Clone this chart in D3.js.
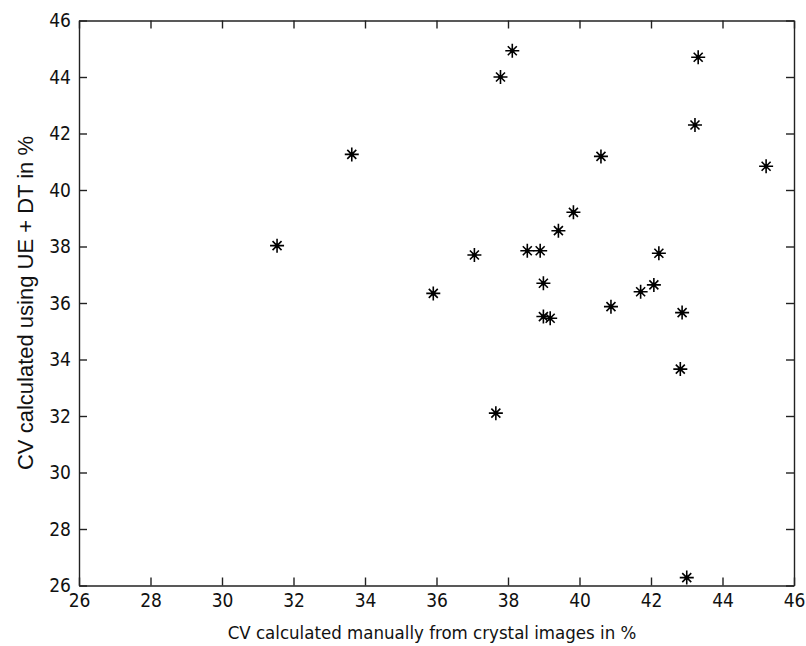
<!DOCTYPE html>
<html>
<head>
<meta charset="utf-8">
<script src="https://cdn.jsdelivr.net/npm/d3@7"></script>
<style>
  body { margin: 0; background: #fff; }
  svg text { fill: #111; }
</style>
</head>
<body>
<div id="chart"></div>
<script>
const manualCV = [31.54, 33.63, 35.91, 37.06, 37.66, 37.79, 38.12, 38.54, 38.90, 38.99, 38.99, 39.18, 39.41, 39.83, 40.60, 40.88, 41.71, 42.08, 42.22, 42.87, 42.82, 43.00, 43.23, 43.32, 45.22];
const ueDtCV = [38.03, 41.26, 36.34, 37.70, 32.10, 44.00, 44.93, 37.85, 37.85, 36.70, 35.52, 35.46, 38.56, 39.21, 41.19, 35.87, 36.40, 36.64, 37.76, 35.66, 33.66, 26.28, 42.30, 44.70, 40.84];
const tickValues = [26, 28, 30, 32, 34, 36, 38, 40, 42, 44, 46];
const xTitle = "CV calculated manually from crystal images in %";
const yTitle = "CV calculated using UE + DT in %";

const width = 806, height = 646;
const plotLeft = 79, plotRight = 794, plotTop = 20.5, plotBottom = 585.5;
const tickLen = 8;
const narrowFont = "'DejaVu Sans Condensed', 'Liberation Sans', sans-serif";

const svg = d3.select("#chart")
              .append("svg")
              .attr("width", width)
              .attr("height", height);

let x = d3.scaleLinear().domain([26, 46]).range([plotLeft, plotRight]);
let y = d3.scaleLinear().domain([26, 46]).range([plotBottom, plotTop]);

// bottom + top axes, ticks pointing inward
svg.append("g")
   .attr("transform", `translate(0, ${plotBottom})`)
   .call(d3.axisBottom(x).tickValues(tickValues).tickSizeInner(-tickLen).tickSizeOuter(0).tickPadding(8))
   .call(styleAxis);
svg.append("g")
   .attr("transform", `translate(0, ${plotTop})`)
   .call(d3.axisTop(x).tickValues(tickValues).tickSizeInner(-tickLen).tickSizeOuter(0).tickFormat(""))
   .call(styleAxis);
svg.append("g")
   .attr("transform", `translate(${plotLeft}, 0)`)
   .call(d3.axisLeft(y).tickValues(tickValues).tickSizeInner(-tickLen).tickSizeOuter(0).tickPadding(8))
   .call(styleAxis);
svg.append("g")
   .attr("transform", `translate(${plotRight}, 0)`)
   .call(d3.axisRight(y).tickValues(tickValues).tickSizeInner(-tickLen).tickSizeOuter(0).tickFormat(""))
   .call(styleAxis);

function styleAxis(g) {
  g.select(".domain").attr("stroke", "#222").attr("stroke-width", 1.4);
  g.selectAll(".tick line").attr("stroke", "#222").attr("stroke-width", 1.4);
  g.selectAll(".tick text")
   .attr("font-size", 19)
   .attr("font-family", narrowFont)
   .attr("fill", "#111");
}

// asterisk markers like matlab '*'
const star = "M0,-7L0,7M-7,0L7,0M-4.5,-4.5L4.5,4.5M-4.5,4.5L4.5,-4.5";
svg.append("g")
   .selectAll("g")
   .data(manualCV.map((v, i) => [v, ueDtCV[i]]))
   .enter()
   .append("g")
   .attr("transform", d => `translate(${x(d[0])}, ${y(d[1])})`)
   .each(function () {
     d3.select(this).append("path")
       .attr("d", star)
       .attr("stroke", "#000")
       .attr("stroke-width", 1.6)
       .attr("fill", "none");
     d3.select(this).append("circle")
       .attr("r", 2.2)
       .attr("fill", "#000");
   });

svg.append("text")
   .attr("x", 432)
   .attr("y", 639)
   .attr("text-anchor", "middle")
   .attr("font-size", 18.5)
   .attr("font-family", narrowFont)
   .text(xTitle);

svg.append("text")
   .attr("transform", `translate(33, ${(plotTop + plotBottom) / 2}) rotate(-90)`)
   .attr("text-anchor", "middle")
   .attr("font-size", 22)
   .attr("font-family", "'Liberation Sans', Arial, sans-serif")
   .text(yTitle);
</script>
</body>
</html>
